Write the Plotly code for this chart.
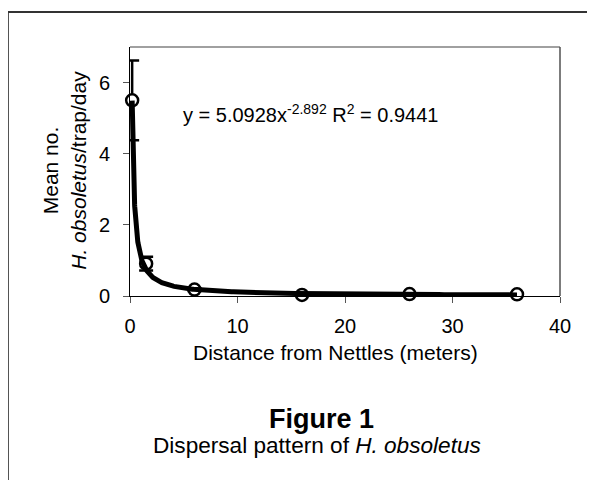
import numpy as np
import plotly.graph_objects as go

# ---- data ----
distance_m = [0.2, 1.5, 6, 16, 26, 36]
mean_count = [5.5, 0.91, 0.18, 0.03, 0.055, 0.048]
error_val = [1.12, 0.19, 0.04, 0.02, 0.02, 0.02]
x_ticks = [0, 10, 20, 30, 40]
y_ticks = [0, 2, 4, 6]
equation_text = "y = 5.0928x<sup>-2.892</sup> R<sup>2</sup> = 0.9441"

# power-law trend fitted to the data (log-log least squares)
b, ln_a = np.polyfit(np.log(distance_m), np.log(mean_count), 1)
xfit = np.geomspace(min(distance_m), max(distance_m), 300)
yfit = np.exp(ln_a) * xfit ** b

FONT = "Liberation Sans, Arial, sans-serif"
OFF = 8  # page body margin of the browser
W, H = 595 - OFF, 480 - OFF
L, T = 130 - OFF, 47 - OFF
R = W - (560.5 - OFF)
B = H - (295.7 - OFF)
PW, PH = W - L - R, H - T - B


def px(xp):
    return (xp - OFF - L) / PW


def py(yp):
    return (H - B - (yp - OFF)) / PH


fig = go.Figure()
fig.add_trace(go.Scatter(
    x=distance_m, y=mean_count, mode="markers",
    marker=dict(symbol="circle", size=12, color="white",
                line=dict(color="black", width=2.5)),
    error_y=dict(type="data", array=error_val, visible=True,
                 color="black", thickness=2.5, width=7),
    cliponaxis=False, showlegend=False,
))
fig.add_trace(go.Scatter(
    x=xfit, y=yfit, mode="lines",
    line=dict(color="black", width=5),
    cliponaxis=False, showlegend=False,
))

axis_common = dict(showgrid=False, zeroline=False, showline=True,
                   linecolor="black", linewidth=1, ticks="outside",
                   ticklen=6, tickcolor="#555555", tickwidth=1,
                   tickfont=dict(family=FONT, size=20, color="black"),
                   automargin=False)
fig.update_xaxes(range=[0, 40], tickvals=x_ticks, ticklabelstandoff=6,
                 **axis_common)
fig.update_yaxes(range=[0, 7], tickvals=y_ticks, ticklabelstandoff=9,
                 **axis_common)

shapes = [
    # outer frame
    dict(type="rect", xref="paper", yref="paper",
         x0=px(7.7), x1=px(603), y0=py(12), y1=py(492),
         line=dict(color="#333333", width=2), layer="below"),
    # plot top/right borders
    dict(type="line", xref="paper", yref="paper", x0=0, x1=1, y0=1, y1=1,
         line=dict(color="#808080", width=1.5)),
    dict(type="line", xref="paper", yref="paper", x0=1, x1=1, y0=0, y1=1,
         line=dict(color="#505050", width=1.5)),
]

annotations = [
    dict(text=equation_text, xref="paper", yref="paper",
         x=px(181), y=py(113), xanchor="left", yanchor="middle",
         showarrow=False, font=dict(family=FONT, size=20, color="black")),
    dict(text="Mean no.<br><i>H. obsoletus</i>/trap/day", xref="paper",
         yref="paper", x=px(64.5), y=py(170), xanchor="center",
         yanchor="middle", textangle=-90, showarrow=False,
         font=dict(family=FONT, size=21, color="black")),
    dict(text="Distance from Nettles (meters)", xref="paper", yref="paper",
         x=px(335.5), y=py(352.5), xanchor="center", yanchor="middle",
         showarrow=False, font=dict(family=FONT, size=21, color="black")),
    dict(text="<b>Figure 1</b>", xref="paper", yref="paper",
         x=px(321.5), y=py(418.7), xanchor="center", yanchor="middle",
         showarrow=False, font=dict(family=FONT, size=27, color="black")),
    dict(text="Dispersal pattern of <i>H. obsoletus</i>", xref="paper",
         yref="paper", x=px(317.5), y=py(445), xanchor="center",
         yanchor="middle", showarrow=False,
         font=dict(family=FONT, size=22.6, color="black")),
]

fig.update_layout(
    width=W, height=H, margin=dict(l=L, r=R, t=T, b=B, pad=0),
    paper_bgcolor="white", plot_bgcolor="white",
    shapes=shapes, annotations=annotations, showlegend=False,
)

fig.write_html("out.html")
